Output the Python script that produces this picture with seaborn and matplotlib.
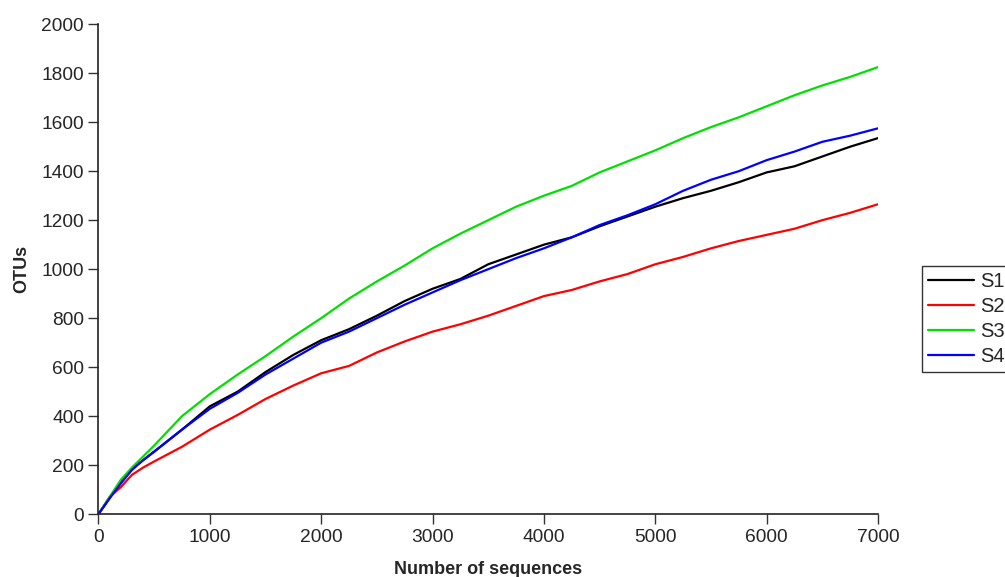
import matplotlib
matplotlib.use("Agg")
import matplotlib.pyplot as plt
import seaborn as sns
import pandas as pd

seqs = [0, 100, 200, 300, 400, 500, 750, 1000, 1250, 1500, 1750, 2000, 2250, 2500,
        2750, 3000, 3250, 3500, 3750, 4000, 4250, 4500, 4750, 5000, 5250, 5500,
        5750, 6000, 6250, 6500, 6750, 7000]
s1 = [0, 65, 130, 185, 220, 255, 345, 440, 500, 580, 650, 710, 755, 810, 870, 920,
      960, 1020, 1060, 1100, 1130, 1175, 1215, 1255, 1290, 1320, 1355, 1395, 1420,
      1460, 1500, 1535]
s2 = [0, 70, 110, 160, 190, 215, 275, 345, 405, 470, 525, 575, 605, 660, 705, 745,
      775, 810, 850, 890, 915, 950, 980, 1020, 1050, 1085, 1115, 1140, 1165, 1200,
      1230, 1265]
s3 = [0, 70, 140, 190, 235, 280, 400, 490, 570, 645, 725, 800, 880, 950, 1015, 1085,
      1145, 1200, 1255, 1300, 1340, 1395, 1440, 1485, 1535, 1580, 1620, 1665, 1710,
      1750, 1785, 1825]
s4 = [0, 65, 125, 180, 220, 255, 345, 430, 495, 570, 635, 700, 745, 800, 855, 905,
      955, 1000, 1045, 1085, 1130, 1180, 1220, 1265, 1320, 1365, 1400, 1445, 1480,
      1520, 1545, 1575]
series = ["S1", "S2", "S3", "S4"]
colors = ["#000000", "#ff0000", "#00e000", "#0000ff"]

df = pd.concat([pd.DataFrame({"x": seqs, "y": v, "sample": n})
                for n, v in zip(series, [s1, s2, s3, s4])], ignore_index=True)

sns.set_style("ticks")
plt.rcParams["font.family"] = ["Liberation Sans", "DejaVu Sans"]

fig = plt.figure(figsize=(10.05, 5.77), dpi=100)
ax = fig.add_axes([0.098, 0.109, 0.7756, 0.849])
sns.lineplot(data=df, x="x", y="y", hue="sample", palette=colors,
             hue_order=series, linewidth=1.6, ax=ax, legend=True)

ax.set_xlim(0, 7000)
ax.set_ylim(0, 2000)
ax.set_xticks(range(0, 7001, 1000))
ax.set_yticks(range(0, 2001, 200))
ax.tick_params(labelsize=13.8, length=7, width=1, color="#333333", direction="out")
sns.despine(ax=ax)
for s in ["left", "bottom"]:
    ax.spines[s].set_color("#222222")
    ax.spines[s].set_linewidth(1.2)
ax.set_xlabel("Number of sequences", fontsize=13, fontweight="bold", labelpad=11)
ax.set_ylabel("OTUs", fontsize=13, fontweight="bold", labelpad=8)

leg = ax.legend(loc="upper left", bbox_to_anchor=(1.056, 0.506), fontsize=14.5,
                frameon=True, fancybox=False, edgecolor="#000000",
                handlelength=2.3, handletextpad=0.3, borderpad=0.3,
                labelspacing=0.3, borderaxespad=0)
leg.get_frame().set_linewidth(1.0)
for line in leg.get_lines():
    line.set_linewidth(1.6)

fig.savefig("out.png", dpi=100)
